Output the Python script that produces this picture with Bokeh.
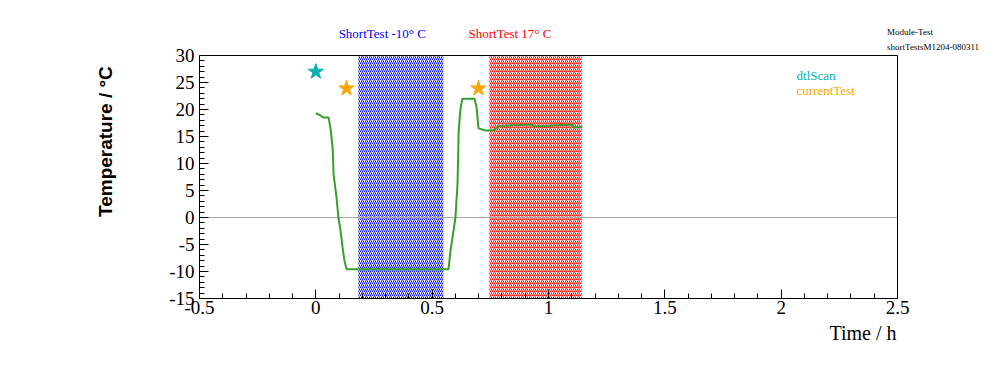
import numpy as np
from bokeh.plotting import figure
from bokeh.models import FixedTicker, Title
from bokeh.core.properties import value
from bokeh.embed import file_html
from bokeh.resources import INLINE

# ---- data ----
time_h = [0.0, 0.02, 0.033, 0.055, 0.063, 0.072, 0.074, 0.076, 0.089, 0.097, 0.106,
          0.115, 0.123, 0.132, 0.570, 0.579, 0.592, 0.600, 0.609, 0.613, 0.614, 0.622,
          0.630, 0.682, 0.691, 0.699, 0.729, 0.764, 0.785, 0.802, 0.931, 0.936, 0.996,
          1.103, 1.107, 1.146]
temp_c = [19.3, 18.9, 18.5, 18.5, 16.5, 13.0, 11.1, 8.1, 3.7, 0.0, -2.4,
          -5.6, -8.0, -9.6, -9.6, -6.1, -2.4, 0.0, 6.3, 14.3, 16.1, 20.2,
          22.0, 22.0, 20.4, 16.5, 16.1, 16.1, 16.9, 17.0, 17.2, 16.9, 17.0,
          17.2, 16.7, 16.7]

dtl_time = [0.0]
dtl_temp = [27.0]
cur_time = [0.132, 0.699]
cur_temp = [23.9, 23.9]

region_names = ["ShortTest -10\u00b0 C", "ShortTest 17\u00b0 C"]
region_start = [0.183, 0.746]
region_end = [0.548, 1.143]
region_colors = ["#0000ff", "#ff0000"]

header_lines = ["Module-Test", "shortTestsM1204-080311"]

x_ticks = [-0.5, 0, 0.5, 1, 1.5, 2, 2.5]
x_tick_labels = ["-0.5", "0", "0.5", "1", "1.5", "2", "2.5"]
y_ticks = [-15, -10, -5, 0, 5, 10, 15, 20, 25, 30]
y_tick_labels = ["-15", "-10", "-5", "0", "5", "10", "15", "20", "25", "30"]

SERIF = "Liberation Serif"
SANS = "Liberation Sans"
W, H = 980, 356
FL, FR, FT, FB = 199, 83, 55, 58          # axes box borders (px)
XMIN, XMAX = -0.5, 2.5
YMIN, YMAX = -15, 30
SX = (W - FL - FR) / (XMAX - XMIN)        # px per hour
SY = (H - FT - FB) / (YMAX - YMIN)        # px per degree

# The plotting frame extends over the top strip and the right margin so that the
# texts placed there are not clipped; the axes are bounded to the real box.
p = figure(width=W, height=H, x_range=(XMIN, XMAX + FR / SX), y_range=(YMIN, YMAX + FT / SY),
           output_backend="svg", toolbar_location=None,
           min_border_left=FL, min_border_right=0, min_border_top=0, min_border_bottom=FB)
p.grid.visible = False
p.outline_line_color = None
p.background_fill_color = "white"
p.border_fill_color = "white"

p.xaxis.ticker = FixedTicker(ticks=x_ticks, minor_ticks=list(np.round(np.arange(XMIN, XMAX + 1e-9, 0.1), 3)))
p.xaxis.major_label_overrides = {t: l for t, l in zip(x_ticks, x_tick_labels)}
p.xaxis.bounds = (XMIN, XMAX)
p.yaxis.ticker = FixedTicker(ticks=y_ticks, minor_ticks=list(range(YMIN, YMAX + 1)))
p.yaxis.major_label_overrides = {t: l for t, l in zip(y_ticks, y_tick_labels)}
p.yaxis.bounds = (YMIN, YMAX)
for ax in (p.xaxis, p.yaxis):
    ax.major_tick_in = 9
    ax.major_tick_out = 0
    ax.minor_tick_in = 5
    ax.minor_tick_out = 0
    ax.axis_line_color = "black"
    ax.major_tick_line_color = "black"
    ax.minor_tick_line_color = "black"
    ax.major_label_text_font = SERIF
    ax.major_label_text_font_size = "19px"
    ax.major_label_text_color = "black"
p.xaxis.major_label_standoff = 2
p.yaxis.major_label_standoff = 5

# y-axis title, shifted slightly towards the top with leading no-break spaces
p.yaxis.axis_label = "\u00a0" * 3 + "Temperature / \u00b0C"
p.yaxis.axis_label_text_font = SANS
p.yaxis.axis_label_text_font_size = "19px"
p.yaxis.axis_label_text_font_style = "bold"
p.yaxis.axis_label_text_color = "black"
p.yaxis.axis_label_standoff = 50

# x-axis title, right aligned at the box edge
p.add_layout(Title(text="Time / h", align="right", offset=FR + 1, text_font=SERIF,
                   text_font_size="20px", text_font_style="normal", text_color="black",
                   standoff=6), "below")

# hatched regions
p.quad(left=region_start, right=region_end, bottom=YMIN, top=YMAX,
       fill_alpha=0, line_alpha=0, hatch_pattern="/", hatch_color=region_colors,
       hatch_scale=4, hatch_weight=1.0)

# zero line
p.segment(x0=[XMIN], y0=[0], x1=[XMAX], y1=[0], line_color="#aaa49d", line_width=1)

# axes box
p.quad(left=[XMIN], right=[XMAX], bottom=[YMIN], top=[YMAX], fill_alpha=0,
       line_color="black", line_width=1)

# temperature curve
p.line(time_h, temp_c, line_color="#33a02c", line_width=2)

# markers
p.scatter(dtl_time, dtl_temp, marker="star", size=16, fill_color="#00b0b0", line_color="#00b0b0")
p.scatter(cur_time, cur_temp, marker="star", size=16, fill_color="#ffa500", line_color="#ffa500")

# legend-like texts
p.text(x=[2.066, 2.066], y=[26.3, 23.5], text=["dtlScan", "currentTest"],
       text_color=["#00b0b0", "#ffa500"], text_font=value(SERIF), text_font_size="13px",
       text_baseline="alphabetic")

# texts above the box
p.text(x=[0.098, 0.656], y=[34.1, 34.1], text=region_names, text_color=region_colors,
       text_font=value(SERIF), text_font_size="13px", text_baseline="alphabetic")
p.text(x=[2.455, 2.455], y=[34.4, 31.5], text=header_lines, text_color="black",
       text_font=value(SERIF), text_font_size="9px", text_baseline="alphabetic")

open("out.html", "w").write(file_html(p, INLINE))
